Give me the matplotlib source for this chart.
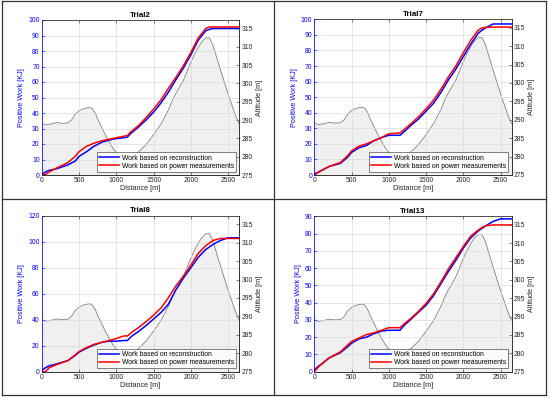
import matplotlib
matplotlib.use("Agg")
import matplotlib.pyplot as plt
from matplotlib.lines import Line2D

plt.rcParams['font.family'] = ['Liberation Sans', 'DejaVu Sans']

# distance samples for the work curves [m]
dist = [0, 50, 100, 200, 350, 450, 500, 600, 700, 800, 900, 1000, 1100, 1150, 1200,
        1300, 1400, 1500, 1600, 1700, 1800, 1900, 2000, 2100, 2200, 2250, 2300, 2400, 2500, 2650]

# altitude profile (same track for every trial)
alt_dist = [0, 50, 120, 200, 280, 350, 400, 450, 500, 550, 600, 650, 680, 720, 750, 800, 850,
            900, 950, 1000, 1050, 1130, 1200, 1280, 1350, 1400, 1500, 1600, 1700, 1750, 1800,
            1900, 2000, 2050, 2100, 2150, 2200, 2250, 2300, 2350, 2400, 2500, 2600, 2650]
altitude = [289.2, 288.7, 288.9, 289.3, 289.1, 289.2, 290.0, 291.6, 292.5, 293.0, 293.3, 293.4,
            293.1, 291.8, 290.3, 288.2, 286.1, 284.2, 282.5, 281.1, 280.0, 279.0, 279.3, 281.0,
            282.3, 283.3, 286.0, 288.9, 292.8, 295.3, 297.3, 300.8, 305.8, 308.0, 309.9, 311.4,
            312.4, 312.4, 310.3, 306.8, 303.5, 297.1, 291.2, 288.9]

trials = ["Trial2", "Trial7", "Trial8", "Trial13"]

recon2 = [0, 2, 3, 4, 6.5, 9, 12, 15, 18.5, 21, 22.5, 23.5, 24, 24.5, 27, 31, 35.5, 40.5, 46.5,
          53.5, 61.5, 69, 77.5, 87, 93, 94, 94.5, 94.5, 94.5, 94.5]
power2 = [0, 0.3, 2, 4.5, 8, 12, 15, 18.5, 20.5, 22, 23, 24, 25, 25.5, 28, 32, 37, 42.5, 48.5,
          56, 63, 70.5, 79, 88.5, 94.5, 95.5, 95.5, 95.5, 95.5, 95.5]

recon7 = [0.5, 1.8, 3, 5.5, 7.5, 11.5, 14.5, 17.5, 19, 22, 24, 25.5, 25.5, 25.5, 27.5, 32, 36, 41,
          46, 53, 61, 68, 76, 84, 91, 93, 94.5, 97, 97, 97]
power7 = [0, 1.5, 3, 5.5, 8, 12.5, 15.5, 18.5, 20, 22, 24, 26.5, 26.8, 27, 29, 33, 37.5, 42.5,
          48, 55, 63, 70, 78.5, 86.5, 93, 94.5, 94.8, 95, 95, 95]

recon8 = [1, 3, 4.5, 6, 8.5, 12.5, 15, 18, 20.5, 22.5, 23.5, 23.5, 24, 24, 27, 31, 35.5, 40.5,
          45.5, 52, 63, 72, 80, 88, 94, 96, 98, 101, 103, 103]
power8 = [0, 0, 3, 5.5, 8.5, 13, 15.5, 18.5, 21, 22.5, 24, 25.5, 27.5, 27.5, 30, 34, 38.5, 43.5,
          49, 57, 66, 73.5, 82, 91, 97, 99, 101, 102.5, 102.5, 102.5]

recon13 = [1, 3, 4.5, 8, 11, 14.5, 16.5, 19, 20, 22, 23.5, 24, 24, 24, 26.5, 30.5, 34.5, 38.5,
           44, 51, 58, 64.5, 71.5, 77.5, 81.5, 83, 84.5, 87, 88.5, 88.5]
power13 = [0, 2.5, 4.5, 8, 11.5, 15.5, 17.5, 19.5, 21.5, 22.5, 24, 25.5, 25.5, 25.5, 27.5, 31,
           35, 39.5, 45, 52, 59.5, 66, 72.5, 78.5, 82, 83.5, 84.5, 85, 85, 85]

recon = [recon2, recon7, recon8, recon13]
power = [power2, power7, power8, power13]
work_max = [100, 100, 120, 90]
work_step = [10, 10, 20, 10]

W, H = 550, 399
fig = plt.figure(figsize=(5.5, 3.99), dpi=100)

# axes boxes in pixels: left, right, top, bottom
boxes = [(41.7, 239.3, 20.0, 175.0), (314.3, 511.7, 19.3, 175.0),
         (41.7, 239.3, 215.7, 371.7), (314.3, 511.7, 216.3, 371.7)]

BLUE = '#0000ff'
DARK = '#262626'
fs = 4.9

for i in range(4):
    l, r, t, b = boxes[i]
    ax = fig.add_axes([l / W, 1 - b / H, (r - l) / W, (b - t) / H])
    ax2 = ax.twinx()

    ax2.fill_between(alt_dist, altitude, 270, color='#f0f0f0', lw=0)
    ax2.plot(alt_dist, altitude, color='#808080', lw=0.6)
    ax2.set_ylim(275, 317.3)
    ax2.set_yticks(range(275, 316, 5))
    ax2.set_ylabel("Altitude [m]", fontsize=fs + 0.3, color=DARK, labelpad=2)
    ax2.tick_params(axis='y', labelsize=fs, colors=DARK, length=2, width=0.4, pad=1.5,
                    direction='in')

    ax.set_zorder(ax2.get_zorder() + 1)
    ax.patch.set_visible(False)
    ax.plot(dist, recon[i], color=BLUE, lw=1.1, label="Work based on reconstruction")
    ax.plot(dist, power[i], color='#ff0000', lw=1.1, label="Work based on power measurements")
    ax.set_xlim(0, 2650)
    ax.set_ylim(0, work_max[i])
    ax.set_xticks(range(0, 2501, 500))
    ax.set_yticks(range(0, work_max[i] + 1, work_step[i]))
    ax.grid(True, color='#dcdcdc', lw=0.5)
    ax.set_axisbelow(True)
    ax.set_title(trials[i], fontsize=fs + 0.8, fontweight='bold', pad=2.5)
    ax.set_xlabel("Distance [m]", fontsize=fs + 0.3, color=DARK, labelpad=1)
    ax.set_ylabel("Positive Work [KJ]", fontsize=fs + 0.3, color=BLUE, labelpad=2)
    ax.tick_params(axis='x', labelsize=fs, colors=DARK, length=2, width=0.4, pad=1.5,
                   direction='in', top=True)
    ax.tick_params(axis='y', labelsize=fs, colors=BLUE, length=2, width=0.4, pad=1.5,
                   direction='in')
    for sp in [ax2, ax]:
        for ss in sp.spines.values():
            ss.set_color(DARK)
            ss.set_linewidth(0.5)
    ax.spines['left'].set_color(BLUE)
    ax2.spines['left'].set_color(BLUE)

    leg = ax.legend(loc='lower right', fontsize=fs, frameon=True, fancybox=False,
                    borderpad=0.3, labelspacing=0.15, handlelength=3.0, handletextpad=0.4,
                    borderaxespad=0.5)
    leg.get_frame().set_edgecolor(DARK)
    leg.get_frame().set_linewidth(0.5)

# panel borders
k = dict(color='#333333', lw=0.9, transform=fig.transFigure)
fig.add_artist(Line2D([2 / W, 2 / W], [1 - 1 / H, 1 - 395 / H], **k))
fig.add_artist(Line2D([546 / W, 546 / W], [1 - 1 / H, 1 - 395 / H], **k))
fig.add_artist(Line2D([2 / W, 546 / W], [1 - 1 / H, 1 - 1 / H], **k))
fig.add_artist(Line2D([2 / W, 546 / W], [1 - 395 / H, 1 - 395 / H], **k))
fig.add_artist(Line2D([274 / W, 274 / W], [1 - 1 / H, 1 - 395 / H], **k))
fig.add_artist(Line2D([2 / W, 546 / W], [1 - 198.7 / H, 1 - 198.7 / H], **k))

fig.savefig("out.png", dpi=100)
